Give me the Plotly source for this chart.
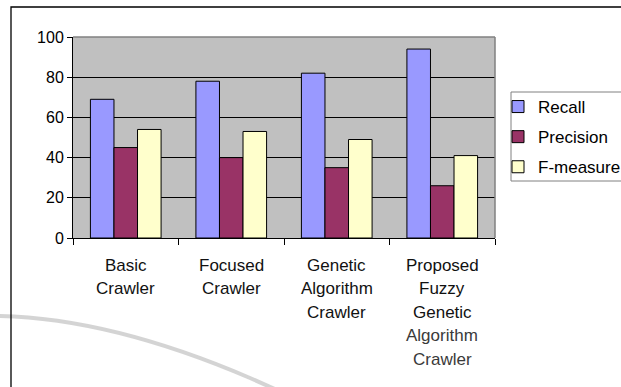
import plotly.graph_objects as go

categories = ["Basic Crawler", "Focused Crawler", "Genetic Algorithm Crawler",
              "Proposed Fuzzy Genetic Algorithm Crawler"]
category_lines = [["Basic", "Crawler"], ["Focused", "Crawler"],
                  ["Genetic", "Algorithm", "Crawler"],
                  ["Proposed", "Fuzzy", "Genetic", "Algorithm", "Crawler"]]
recall = [69, 78, 82, 94]
precision = [45, 40, 35, 26]
f_measure = [54, 53, 49, 41]
y_ticks = [0, 20, 40, 60, 80, 100]

W, H = 621, 387
L, R, T, B = 73, 495, 37, 238
PW, PH = R - L, B - T


def px(x):
    return (x - L) / PW


def py(y):
    return (B - y) / PH


FONT = "Arial, Liberation Sans, sans-serif"

fig = go.Figure()
series = [("Recall", recall, "#9999FF"),
          ("Precision", precision, "#993366"),
          ("F-measure", f_measure, "#FFFFCC")]
for name, vals, col in series:
    fig.add_trace(go.Bar(
        x=categories, y=vals, name=name, legendgroup=name,
        marker=dict(color=col, line=dict(color="#000000", width=1)),
    ))

annotations = []
for cat, lines in zip(categories, category_lines):
    for i, ln in enumerate(lines):
        col = "#3a3a3a" if (len(lines) == 5 and i >= 3) else "#111111"
        annotations.append(dict(
            x=cat, xref="x", y=0, yref="paper", text=ln, showarrow=False,
            yanchor="middle", xanchor="center", yshift=-(27 + 23.5 * i),
            font=dict(family=FONT, size=17, color=col),
        ))

shapes = [
    # faint background arc from the scanned page
    dict(type="path", xref="paper", yref="paper",
         path=("M {},{} Q {},{} {},{} L {},{}".format(
             px(-2), py(316), px(110), py(318), px(250), py(378),
             px(295), py(398))),
         line=dict(color="rgba(205,205,205,0.85)", width=4), layer="below"),
    # outer chart frame
    dict(type="rect", xref="paper", yref="paper",
         x0=px(11), x1=px(640), y0=py(400), y1=py(7),
         line=dict(color="#000000", width=1.3), fillcolor="rgba(0,0,0,0)",
         layer="below"),
    # legend box
    dict(type="rect", xref="paper", yref="paper",
         x0=px(511), x1=px(640), y0=py(181), y1=py(92),
         line=dict(color="#808080", width=1), fillcolor="#FFFFFF",
         layer="below"),
    # plot-area border (top / right in grey)
    dict(type="line", xref="paper", yref="paper", x0=0, x1=1, y0=1, y1=1,
         line=dict(color="#808080", width=1.5)),
    dict(type="line", xref="paper", yref="paper", x0=1, x1=1, y0=0, y1=1,
         line=dict(color="#808080", width=1.5)),
]

fig.update_layout(
    width=W, height=H,
    margin=dict(l=L, r=W - R, t=T, b=H - B, pad=0, autoexpand=False),
    paper_bgcolor="#FFFFFF", plot_bgcolor="#C0C0C0",
    barmode="group", bargap=0.33, bargroupgap=0,
    font=dict(family=FONT, size=16, color="#000000"),
    showlegend=True,
    legend=dict(
        x=px(498), y=py(89), xanchor="left", yanchor="top",
        borderwidth=0, bgcolor="rgba(0,0,0,0)",
        font=dict(family=FONT, size=17, color="#000000"),
        traceorder="grouped", tracegroupgap=5, itemwidth=30,
    ),
    xaxis=dict(
        type="category", showticklabels=False, ticks="outside",
        tickson="boundaries", ticklen=6, tickcolor="#000000",
        showline=True, linecolor="#000000", linewidth=1,
        showgrid=False, zeroline=False,
    ),
    yaxis=dict(
        range=[0, 100], tickvals=y_ticks, ticks="outside", ticklen=5,
        tickcolor="#000000", showline=True, linecolor="#000000", linewidth=1,
        showgrid=True, gridcolor="#000000", gridwidth=1, zeroline=False,
        ticksuffix="\u00a0",
        tickfont=dict(family=FONT, size=16, color="#000000"),
    ),
    annotations=annotations, shapes=shapes,
)

fig.write_html("out.html", config={"displayModeBar": False},
               post_script="document.body.style.margin='0';"
                           "document.body.style.overflow='hidden';")
